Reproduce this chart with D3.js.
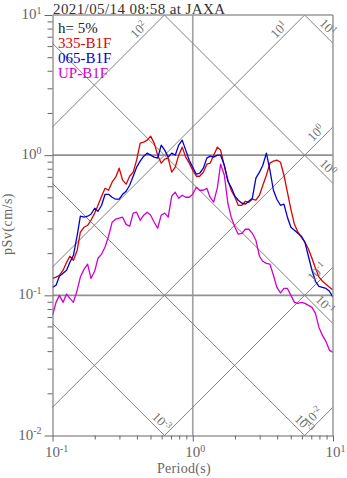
<!DOCTYPE html>
<html>
<head>
<meta charset="utf-8">
<script src="https://cdn.jsdelivr.net/npm/d3@7"></script>
<style>
  html, body { margin: 0; padding: 0; background: #fff; }
  svg { display: block; font-family: "Liberation Serif", "DejaVu Serif", serif; }
</style>
</head>
<body>
<svg id="chart" width="347" height="478"></svg>
<script>
// Periods (s) shared by all three spectra
const periods = [
  0.100, 0.106, 0.112, 0.119, 0.126, 0.133, 0.141, 0.150, 0.158, 0.168,
  0.178, 0.188, 0.200, 0.211, 0.224, 0.237, 0.251, 0.266, 0.282, 0.299,
  0.316, 0.335, 0.355, 0.376, 0.398, 0.422, 0.447, 0.473, 0.501, 0.531,
  0.562, 0.596, 0.631, 0.668, 0.708, 0.750, 0.794, 0.841, 0.891, 0.944,
  1.00, 1.06, 1.12, 1.19, 1.26, 1.33, 1.41, 1.50, 1.58, 1.68,
  1.78, 1.88, 2.00, 2.11, 2.24, 2.37, 2.51, 2.66, 2.82, 2.99,
  3.16, 3.35, 3.55, 3.76, 3.98, 4.22, 4.47, 4.73, 5.01, 5.31,
  5.62, 5.96, 6.31, 6.68, 7.08, 7.50, 7.94, 8.41, 8.91, 9.44, 10.0
];

// Pseudo velocity response (cm/s), h = 5%
const pSv335 = [
  0.132, 0.135, 0.139, 0.151, 0.172, 0.190, 0.178, 0.210, 0.282, 0.306,
  0.316, 0.343, 0.386, 0.439, 0.510, 0.581, 0.562, 0.642, 0.696, 0.807,
  0.663, 0.621, 0.707, 0.756, 0.921, 1.219, 1.239, 1.280, 1.367, 1.219,
  1.000, 0.877, 0.937, 0.952, 0.756, 0.821, 1.000, 1.141, 0.968, 0.877,
  0.781, 0.707, 0.707, 0.756, 0.863, 0.877, 1.000, 1.141, 1.086, 0.834,
  0.663, 0.562, 0.501, 0.439, 0.439, 0.469, 0.462, 0.485, 0.477, 0.518,
  0.610, 0.719, 0.877, 0.906, 0.921, 0.891, 0.719, 0.544, 0.411, 0.321,
  0.282, 0.259, 0.239, 0.214, 0.184, 0.156, 0.135, 0.126, 0.120, 0.114, 0.109
];
const pSv065 = [
  0.114, 0.118, 0.137, 0.144, 0.151, 0.172, 0.193, 0.268, 0.367, 0.361,
  0.367, 0.379, 0.418, 0.398, 0.439, 0.526, 0.526, 0.501, 0.485, 0.485,
  0.526, 0.553, 0.610, 0.707, 0.821, 0.906, 0.984, 1.033, 1.000, 0.968,
  0.952, 1.179, 1.086, 0.968, 1.033, 1.000, 1.179, 1.280, 1.086, 0.921,
  0.821, 0.731, 0.743, 0.807, 0.952, 0.984, 0.968, 1.000, 1.000, 0.848,
  0.652, 0.590, 0.510, 0.477, 0.454, 0.447, 0.469, 0.493, 0.685, 0.756,
  0.848, 1.033, 0.781, 0.562, 0.485, 0.439, 0.447, 0.361, 0.306, 0.291,
  0.277, 0.264, 0.239, 0.190, 0.151, 0.126, 0.116, 0.114, 0.112, 0.107, 0.0968
];
const pSvUP = [
  0.0719, 0.0891, 0.100, 0.0891, 0.102, 0.0952, 0.0891, 0.109, 0.135, 0.154,
  0.167, 0.132, 0.149, 0.184, 0.197, 0.221, 0.264, 0.332, 0.349, 0.355,
  0.361, 0.321, 0.311, 0.386, 0.392, 0.343, 0.373, 0.392, 0.373, 0.332,
  0.301, 0.373, 0.386, 0.361, 0.510, 0.544, 0.493, 0.518, 0.501, 0.501,
  0.526, 0.590, 0.562, 0.562, 0.581, 0.501, 0.462, 0.590, 0.863, 0.719,
  0.454, 0.361, 0.306, 0.273, 0.277, 0.296, 0.296, 0.277, 0.247, 0.190,
  0.175, 0.169, 0.167, 0.139, 0.114, 0.104, 0.112, 0.112, 0.100, 0.0891,
  0.0877, 0.0891, 0.0877, 0.0848, 0.0821, 0.0744, 0.0590, 0.0518, 0.0469, 0.0405, 0.0392
];

const seriesNames = ["335-B1F", "065-B1F", "UP-B1F"];
const seriesColors = ["#e00000", "#0000d0", "#d000d0"];
const seriesValues = [pSv335, pSv065, pSvUP];

// Tripartite guide levels
const accLevels = [100, 10, 1, 0.1, 0.01];      // cm/s^2, pSv = A*T/(2*pi)
const dispLevels = [10, 1, 0.1, 0.01, 0.001];   // cm,     pSv = 2*pi*D/T

// Guide labels: which line, exponent text shown, period where it sits
const guideLabels = [
  { kind: "acc",  level: 100,   exp: "2",  at: 0.451 },
  { kind: "acc",  level: 10,    exp: "1",  at: 4.51 },
  { kind: "disp", level: 10,    exp: "1",  at: 8.41 },
  { kind: "acc",  level: 1,     exp: "0",  at: 8.28 },
  { kind: "disp", level: 1,     exp: "0",  at: 8.41 },
  { kind: "acc",  level: 0.1,   exp: "-1", at: 8.41 },
  { kind: "disp", level: 0.1,   exp: "-1", at: 8.0 },
  { kind: "disp", level: 0.001, exp: "-3", at: 0.548 },
  { kind: "disp", level: 0.01,  exp: "-3", at: 5.68 },
  { kind: "acc",  level: 0.01,  exp: "-2", at: 7.87 }
];

const xTicks = [0.1, 1, 10];
const xTickExp = ["-1", "0", "1"];
const yTicks = [10, 1, 0.1, 0.01];
const yTickExp = ["1", "0", "-1", "-2"];

const titleText = "2021/05/14 08:58 at JAXA";
const dampingText = "h= 5%";

const svg = d3.select("#chart");
const plotL = 52.5, plotR = 333, plotT = 15, plotB = 435.5;

const x = d3.scaleLog().domain([0.1, 10]).range([plotL, plotR]);
const y = d3.scaleLog().domain([0.01, 10]).range([plotB, plotT]);

const TWO_PI = 2 * Math.PI;
const accV = (A, T) => A * T / TWO_PI;
const dispV = (D, T) => TWO_PI * D / T;

svg.append("defs").append("clipPath").attr("id", "plotClip")
  .append("rect").attr("x", plotL).attr("y", plotT)
  .attr("width", plotR - plotL).attr("height", plotB - plotT);

const plot = svg.append("g").attr("clip-path", "url(#plotClip)");

// Grid lines at decades
plot.append("line").attr("x1", x(1)).attr("x2", x(1)).attr("y1", plotT).attr("y2", plotB)
  .attr("stroke", "#a0a0a0").attr("stroke-width", 1.6);
[1, 0.1].forEach(v => {
  plot.append("line").attr("x1", plotL).attr("x2", plotR).attr("y1", y(v)).attr("y2", y(v))
    .attr("stroke", "#909090").attr("stroke-width", 1.6);
});

// Diagonal guides
const guideLine = d3.line().x(d => x(d[0])).y(d => y(d[1]));
accLevels.forEach(A => {
  plot.append("path").attr("d", guideLine([[0.01, accV(A, 0.01)], [100, accV(A, 100)]]))
    .attr("fill", "none").attr("stroke", "#808080").attr("stroke-width", 1);
});
dispLevels.forEach(D => {
  plot.append("path").attr("d", guideLine([[0.01, dispV(D, 0.01)], [100, dispV(D, 100)]]))
    .attr("fill", "none").attr("stroke", "#808080").attr("stroke-width", 1);
});

// Frame: top and right borders
svg.append("line").attr("x1", plotL).attr("x2", plotR).attr("y1", plotT).attr("y2", plotT)
  .attr("stroke", "#999").attr("stroke-width", 1.5);
svg.append("line").attr("x1", plotR).attr("x2", plotR).attr("y1", plotT).attr("y2", plotB)
  .attr("stroke", "#999").attr("stroke-width", 1.5);

// Power-of-ten text helper
function powText(sel, exp, supSize, supShift) {
  sel.append("tspan").text("10");
  sel.append("tspan").attr("font-size", supSize).attr("dy", -supShift).text(exp);
  return sel;
}

// Guide labels
guideLabels.forEach(g => {
  const v = g.kind === "acc" ? accV(g.level, g.at) : dispV(g.level, g.at);
  const angle = g.kind === "acc" ? -45 : 45;
  const t = svg.append("text")
    .attr("transform", `translate(${x(g.at)},${y(v)}) rotate(${angle})`)
    .attr("x", 0).attr("y", -3.5)
    .attr("text-anchor", "middle")
    .attr("font-size", 13).attr("fill", "#707070");
  powText(t, g.exp, 9, 4.5);
});

// Spectra
const specLine = d3.line().x((d, i) => x(periods[i])).y(d => y(d));
seriesValues.forEach((vals, i) => {
  plot.append("path").attr("d", specLine(vals))
    .attr("fill", "none").attr("stroke", seriesColors[i])
    .attr("stroke-width", 1.3).attr("stroke-linejoin", "round");
});

// Axes
const logTicks = (lo, hi) => {
  const out = [];
  for (let e = Math.round(Math.log10(lo)); e < Math.round(Math.log10(hi)); e++) {
    for (let m = 1; m < 10; m++) out.push(m * Math.pow(10, e));
  }
  out.push(hi);
  return out;
};
const isDecade = d => Math.abs(Math.log10(d) - Math.round(Math.log10(d))) < 1e-9;

const yAxis = svg.append("g").attr("transform", `translate(${plotL},0)`)
  .call(d3.axisLeft(y).tickValues(logTicks(0.01, 10)).tickFormat("")
    .tickSize(5).tickSizeOuter(0));
yAxis.selectAll(".tick line").attr("x2", d => (isDecade(d) ? -8 : -5));
yAxis.selectAll("line, path").attr("stroke", "#666");

const xAxis = svg.append("g").attr("transform", `translate(0,${plotB})`)
  .call(d3.axisBottom(x).tickValues(logTicks(0.1, 10)).tickFormat("")
    .tickSize(4).tickSizeOuter(0));
xAxis.selectAll(".tick line").attr("y2", d => (isDecade(d) ? 6 : 4));
xAxis.selectAll("line, path").attr("stroke", "#666");

// Tick labels
yTicks.forEach((v, i) => {
  const t = svg.append("text").attr("x", 41.5).attr("y", y(v) + 4)
    .attr("text-anchor", "end").attr("font-size", 15).attr("fill", "#666");
  powText(t, yTickExp[i], 10, 5.5);
});
xTicks.forEach((v, i) => {
  const t = svg.append("text").attr("x", x(v) - 7.5).attr("y", 457)
    .attr("text-anchor", "start").attr("font-size", 15).attr("fill", "#666");
  powText(t, xTickExp[i], 10, 5.5);
});

// Axis titles
svg.append("text").attr("x", 184).attr("y", 473).attr("text-anchor", "middle")
  .attr("font-size", 14).attr("fill", "#666").attr("letter-spacing", 0.3).text("Period(s)");
svg.append("text").attr("transform", "translate(12,224) rotate(-90)")
  .attr("text-anchor", "middle").attr("font-size", 14).attr("fill", "#666")
  .attr("letter-spacing", 0.5).text("pSv(cm/s)");

// Title
svg.append("text").attr("x", 53).attr("y", 13.5).attr("font-size", 15).attr("fill", "#333")
  .attr("letter-spacing", 0.4).text(titleText);

// Legend
svg.append("text").attr("x", 58).attr("y", 33).attr("font-size", 15).attr("fill", "#222")
  .text(dampingText);
seriesNames.forEach((name, i) => {
  svg.append("text").attr("x", 58).attr("y", 48 + i * 15).attr("font-size", 15)
    .attr("fill", seriesColors[i]).text(name);
});
</script>
</body>
</html>
